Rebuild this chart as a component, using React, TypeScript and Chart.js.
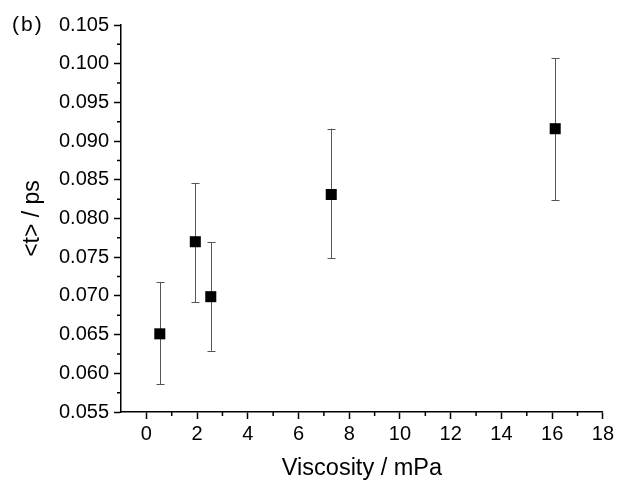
import React, { useEffect, useRef } from "react";
import { Chart, registerables } from "chart.js";

Chart.register(...registerables);

const viscosity = [0.53, 1.93, 2.54, 7.29, 16.12];
const meanT = [0.0651, 0.077, 0.0699, 0.0831, 0.0916];
const upperT = [0.0718, 0.0846, 0.0769, 0.0916, 0.1007];
const lowerT = [0.0586, 0.0692, 0.0629, 0.0749, 0.0824];

const xMajorTicks = [0, 2, 4, 6, 8, 10, 12, 14, 16, 18];
const xMinorTicks = [1, 3, 5, 7, 9, 11, 13, 15, 17];
const yMajorTicks = [0.055, 0.06, 0.065, 0.07, 0.075, 0.08, 0.085, 0.09, 0.095, 0.1, 0.105];
const yMinorTicks = [0.0575, 0.0625, 0.0675, 0.0725, 0.0775, 0.0825, 0.0875, 0.0925, 0.0975, 0.1025];

const FONT = "'Liberation Sans', Arial, sans-serif";

const errorBarPlugin = {
  id: "errorBars",
  beforeDatasetsDraw(chart: any) {
    const ctx = chart.ctx;
    const xs = chart.scales.x;
    const ys = chart.scales.y;
    ctx.save();
    ctx.strokeStyle = "#555555";
    ctx.lineWidth = 1;
    viscosity.forEach((v, i) => {
      const px = Math.round(xs.getPixelForValue(v)) + 0.5;
      const top = ys.getPixelForValue(upperT[i]);
      const bot = ys.getPixelForValue(lowerT[i]);
      ctx.beginPath();
      ctx.moveTo(px, top);
      ctx.lineTo(px, bot);
      ctx.moveTo(px - 4, Math.round(top) + 0.5);
      ctx.lineTo(px + 4, Math.round(top) + 0.5);
      ctx.moveTo(px - 4, Math.round(bot) + 0.5);
      ctx.lineTo(px + 4, Math.round(bot) + 0.5);
      ctx.stroke();
    });
    ctx.restore();
  },
};

const minorTickPlugin = {
  id: "minorTicks",
  afterDraw(chart: any) {
    const ctx = chart.ctx;
    const xs = chart.scales.x;
    const ys = chart.scales.y;
    const area = chart.chartArea;
    ctx.save();
    ctx.strokeStyle = "#000";
    ctx.lineWidth = 1.5;
    ctx.beginPath();
    xMinorTicks.forEach((v) => {
      const px = xs.getPixelForValue(v);
      ctx.moveTo(px, area.bottom);
      ctx.lineTo(px, area.bottom + 4);
    });
    yMinorTicks.forEach((v) => {
      const py = ys.getPixelForValue(v);
      ctx.moveTo(area.left, py);
      ctx.lineTo(area.left - 4, py);
    });
    ctx.stroke();
    ctx.fillStyle = "#000";
    ctx.font = `21px ${FONT}`;
    ctx.textBaseline = "alphabetic";
    ctx.textAlign = "left";
    try {
      (ctx as any).letterSpacing = "2px";
    } catch (e) {}
    ctx.fillText("(b)", 12, 31);
    ctx.restore();
  },
};

export default function App() {
  const ref = useRef<HTMLCanvasElement | null>(null);
  useEffect(() => {
    if (!ref.current) return;
    const chart = new Chart(ref.current, {
      type: "scatter",
      data: {
        datasets: [
          {
            data: viscosity.map((v, i) => ({ x: v, y: meanT[i] })),
            pointStyle: "rect",
            pointRadius: 7.8,
            pointBorderWidth: 0,
            backgroundColor: "#000",
            borderColor: "#000",
          },
        ],
      },
      options: {
        animation: false,
        responsive: false,
        maintainAspectRatio: false,
        layout: { padding: { left: 0, top: 25, right: 14, bottom: 0 } },
        plugins: { legend: { display: false }, tooltip: { enabled: false } },
        scales: {
          x: {
            type: "linear",
            min: -1,
            max: 18,
            afterBuildTicks: (s: any) => {
              s.ticks = xMajorTicks.map((v) => ({ value: v }));
            },
            afterFit: (s: any) => {
              s.height = 83;
            },
            grid: {
              drawOnChartArea: false,
              drawTicks: true,
              tickLength: 7,
              tickWidth: 1.5,
              tickColor: "#000",
            },
            border: { display: true, color: "#000", width: 1.5 },
            ticks: {
              color: "#000",
              font: { family: FONT, size: 20 },
              padding: 3,
              maxRotation: 0,
              autoSkip: false,
            },
            title: {
              display: true,
              text: "Viscosity / mPa",
              color: "#000",
              font: { family: FONT, size: 23.5 },
              padding: { top: 0, bottom: 12 },
            },
          },
          y: {
            type: "linear",
            min: 0.055,
            max: 0.105,
            afterBuildTicks: (s: any) => {
              s.ticks = yMajorTicks.map((v) => ({ value: v }));
            },
            afterFit: (s: any) => {
              s.width = 121;
            },
            grid: {
              drawOnChartArea: false,
              drawTicks: true,
              tickLength: 7,
              tickWidth: 1.5,
              tickColor: "#000",
            },
            border: { display: true, color: "#000", width: 1.5 },
            ticks: {
              color: "#000",
              font: { family: FONT, size: 20 },
              padding: 5,
              autoSkip: false,
              callback: (v: any) => Number(v).toFixed(3),
            },
            title: {
              display: true,
              text: "<t> / ps",
              color: "#000",
              font: { family: FONT, size: 23 },
              padding: { top: 19, bottom: 0 },
            },
          },
        },
      },
      plugins: [errorBarPlugin, minorTickPlugin],
    });
    return () => chart.destroy();
  }, []);
  return (
    <div style={{ position: "absolute", left: 0, top: 0, width: 617, height: 495, background: "#fff" }}>
      <canvas ref={ref} width={617} height={495} style={{ width: 617, height: 495 }} />
    </div>
  );
}
